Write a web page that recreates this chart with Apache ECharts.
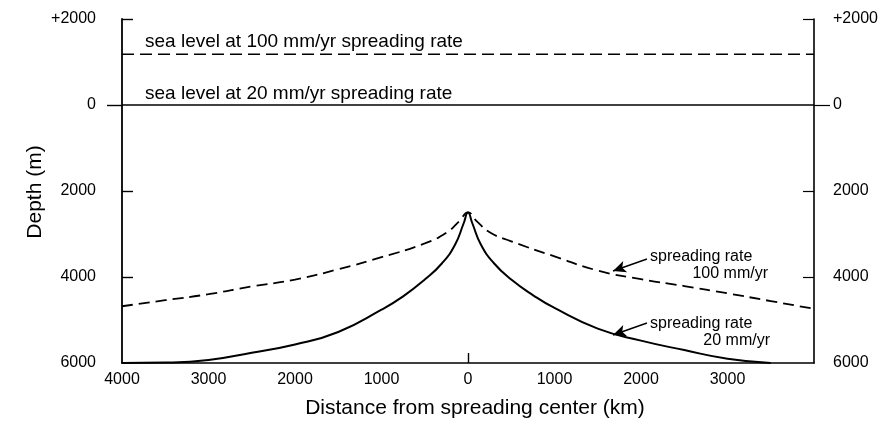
<!DOCTYPE html>
<html>
<head>
<meta charset="utf-8">
<script src="https://cdn.jsdelivr.net/npm/echarts@6/dist/echarts.min.js"></script>
<style>
html,body{margin:0;padding:0;background:#fff;}
#chart{width:893px;height:432px;}
</style>
</head>
<body>
<div id="chart"></div>
<script>
// ---- data ----
const xRange = [-4000, 4000];
const yTickValues = [-2000, 0, 2000, 4000, 6000];
const seaLevel100 = -1180;   // sea level at 100 mm/yr (m, negative = above present)
const seaLevel20 = 0;        // sea level at 20 mm/yr

const distance100 = [-4000, -3500, -3000, -2500, -2000, -1500, -1000, -500, -250, -100, 0, 100, 250, 500, 1000, 1500, 2000, 2500, 3000, 3500, 4000];
const depth100    = [4680, 4540, 4400, 4220, 4060, 3820, 3540, 3220, 2970, 2700, 2500, 2700, 2960, 3170, 3520, 3850, 4050, 4210, 4380, 4560, 4740];

const distance20 = [-4000, -3500, -3000, -2500, -2000, -1500, -1000, -750, -500, -300, -150, -50, 0, 50, 150, 300, 500, 750, 1000, 1500, 2000, 2500, 3000, 3500];
const depth20    = [6000, 5990, 5930, 5760, 5570, 5280, 4760, 4450, 4060, 3680, 3250, 2750, 2500, 2750, 3250, 3680, 4060, 4420, 4720, 5200, 5480, 5700, 5900, 6000];

// annotation arrows [tail, head] in data units
const arrow100 = [[2069, 3581], [1676, 3860]];
const arrow20  = [[2069, 5070], [1676, 5349]];

const zip = (xs, ys) => xs.map((x, i) => [x, ys[i]]);
const yFmt = v => v < 0 ? '+' + (-v) : String(v);
const FONT = 'Liberation Sans, Arial, Helvetica, sans-serif';

const chart = echarts.init(document.getElementById('chart'), null, {renderer: 'canvas'});

const baseY = {
  type: 'value', inverse: true, min: -2000, max: 6000, interval: 2000,
  splitLine: {show: false}
};

chart.setOption({
  animation: false,
  backgroundColor: '#fff',
  grid: {left: 122, right: 79, top: 19, bottom: 69},
  xAxis: {
    type: 'value', min: xRange[0], max: xRange[1], interval: 1000,
    axisLine: {show: true, onZero: false, lineStyle: {color: '#000', width: 1.6}},
    axisTick: {show: true, inside: true, length: 10, customValues: [0], lineStyle: {color: '#000', width: 1.4}},
    axisLabel: {
      color: '#000', fontSize: 16, fontFamily: FONT, margin: 9,
      formatter: v => v === 4000 ? '' : String(Math.abs(v))
    },
    splitLine: {show: false}
  },
  yAxis: [
    Object.assign({}, baseY, {
      position: 'left',
      axisLine: {show: true, onZero: false, lineStyle: {color: '#000', width: 1.8}},
      axisTick: {show: true, inside: true, length: 11, customValues: [-2000, 2000, 4000], lineStyle: {color: '#000', width: 1.4}},
      axisLabel: {color: '#000', fontSize: 16, fontFamily: FONT, margin: 26, formatter: yFmt}
    }),
    Object.assign({}, baseY, {
      position: 'right',
      axisLine: {show: true, onZero: false, lineStyle: {color: '#000', width: 1.6}},
      axisTick: {show: true, inside: true, length: 11, customValues: [-2000, 2000, 4000], lineStyle: {color: '#000', width: 1.2}},
      axisLabel: {color: '#000', fontSize: 16, fontFamily: FONT, margin: 19, formatter: yFmt}
    }),
    Object.assign({}, baseY, {
      position: 'left',
      axisLine: {show: false, onZero: false},
      axisTick: {show: true, inside: false, length: 15, customValues: [0], lineStyle: {color: '#000', width: 1.4}},
      axisLabel: {show: false}
    }),
    Object.assign({}, baseY, {
      position: 'right',
      axisLine: {show: false, onZero: false},
      axisTick: {show: true, inside: false, length: 16, customValues: [0], lineStyle: {color: '#000', width: 1.2}},
      axisLabel: {show: false}
    })
  ],
  series: [
    {
      name: 'sea level 100', type: 'line', yAxisIndex: 0, symbol: 'none',
      data: xRange.map(x => [x, seaLevel100]),
      lineStyle: {color: '#000', width: 1.6, type: [12, 6]}
    },
    {
      name: 'sea level 20', type: 'line', yAxisIndex: 0, symbol: 'none',
      data: xRange.map(x => [x, seaLevel20]),
      lineStyle: {color: '#000', width: 1.4}
    },
    {
      name: '100 mm/yr', type: 'line', yAxisIndex: 0, symbol: 'none',
      smooth: 0.5,
      data: zip(distance100, depth100),
      lineStyle: {color: '#000', width: 1.8, type: [11, 6]},
      markLine: {
        silent: true, symbol: ['none', 'arrow'], symbolSize: [9, 13],
        label: {show: false},
        lineStyle: {color: '#000', width: 1.5, type: 'solid'},
        data: [
          [{coord: arrow100[0]}, {coord: arrow100[1]}],
          [{coord: arrow20[0]}, {coord: arrow20[1]}]
        ]
      }
    },
    {
      name: '20 mm/yr', type: 'line', yAxisIndex: 0, symbol: 'none',
      smooth: 0.5,
      data: zip(distance20, depth20),
      lineStyle: {color: '#000', width: 2}
    }
  ],
  graphic: [
    {type: 'text', x: 145, y: 42, style: {text: 'sea level at 100 mm/yr spreading rate', font: '19px ' + FONT, fill: '#000', textVerticalAlign: 'middle'}},
    {type: 'text', x: 145, y: 94, style: {text: 'sea level at 20 mm/yr spreading rate', font: '19px ' + FONT, fill: '#000', textVerticalAlign: 'middle'}},
    {type: 'text', x: 650, y: 257, style: {text: 'spreading rate', font: '16px ' + FONT, fill: '#000', textVerticalAlign: 'middle'}},
    {type: 'text', x: 768, y: 274, style: {text: '100 mm/yr', font: '16px ' + FONT, fill: '#000', textAlign: 'right', textVerticalAlign: 'middle'}},
    {type: 'text', x: 650, y: 324, style: {text: 'spreading rate', font: '16px ' + FONT, fill: '#000', textVerticalAlign: 'middle'}},
    {type: 'text', x: 770, y: 341, style: {text: '20 mm/yr', font: '16px ' + FONT, fill: '#000', textAlign: 'right', textVerticalAlign: 'middle'}},
    {type: 'text', x: 475, y: 408, style: {text: 'Distance from spreading center (km)', font: '21px ' + FONT, fill: '#000', textAlign: 'center', textVerticalAlign: 'middle'}},
    {type: 'text', x: 35, y: 192, rotation: Math.PI / 2, style: {text: 'Depth (m)', font: '21px ' + FONT, fill: '#000', textAlign: 'center', textVerticalAlign: 'middle'}}
  ]
});
</script>
</body>
</html>
